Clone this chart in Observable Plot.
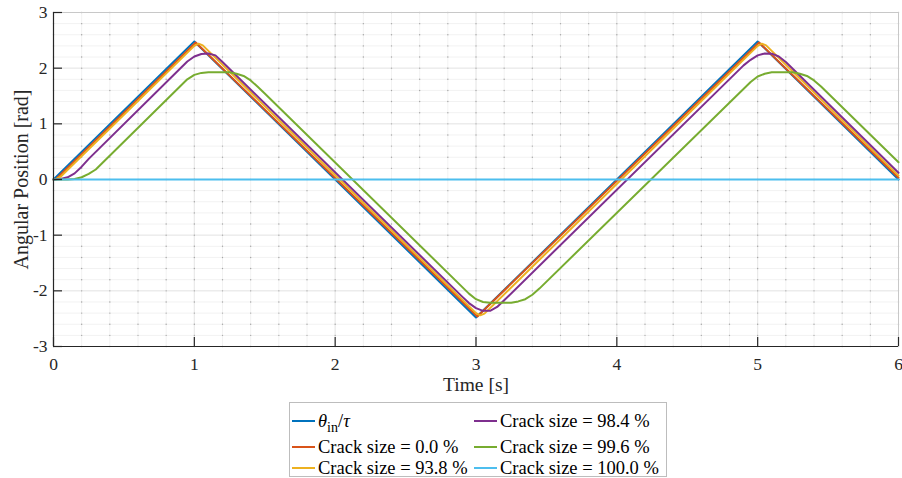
<!DOCTYPE html>
<html><head><meta charset="utf-8">
<script src="https://cdn.jsdelivr.net/npm/d3@7"></script>
<script src="https://cdn.jsdelivr.net/npm/@observablehq/plot@0.6"></script>
<style>
body{margin:0;background:#fff;font-family:"Liberation Serif","Times New Roman",serif;}
#wrap{position:relative;width:902px;height:478px;overflow:hidden;}
#legend{position:absolute;left:289px;top:402px;width:378px;height:75px;border:1px solid #bdbdbd;background:#fff;box-sizing:border-box;}
.item{position:absolute;height:24px;display:flex;align-items:center;font-size:18.5px;color:#000;white-space:nowrap;font-family:"Liberation Serif","Times New Roman",serif;}
.sw{width:23px;height:2px;margin-right:3px;flex:none;}
.item sub{font-size:14px;vertical-align:-5px;line-height:0;}
svg text{font-family:"Liberation Serif","Times New Roman",serif;}
g[aria-label$="tick label"], g[aria-label$="tick label"] text{font-size:17.5px !important;}
</style></head><body>
<div id="wrap"><div id="chart"></div><div id="legend"></div></div>
<script>
// ---- data ----
const seriesNames = ["θin/τ", "Crack size = 0.0 %", "Crack size = 93.8 %", "Crack size = 98.4 %", "Crack size = 99.6 %", "Crack size = 100.0 %"];
const seriesColors = ["#0072BD", "#D95319", "#EDB120", "#7E2F8E", "#77AC30", "#4DBEEE"];

const tInput = [0, 1, 3, 5, 6];
const yInput = [0, 2.48, -2.48, 2.48, 0];

const tCrack0 = [0, 0.015, 1.01, 3.01, 5.01, 6];
const yCrack0 = [0, 0, 2.46, -2.46, 2.46, 0.03];

const tCrack938 = [0, 0.02, 0.05, 1.0, 1.03, 1.06, 3.0, 3.03, 3.06, 5.0, 5.03, 5.06, 6];
const yCrack938 = [0, 0.005, 0.05, 2.40, 2.44, 2.41, -2.40, -2.44, -2.41, 2.40, 2.44, 2.41, 0.07];

const tCrack984 = [0, 0.05, 0.1, 0.15, 0.2, 0.25, 0.95, 1.0, 1.05, 1.1, 1.15, 1.2, 2.9, 2.95, 3.0, 3.05, 3.1, 3.15, 3.2, 4.9, 4.95, 5.0, 5.05, 5.1, 5.15, 5.2, 6];
const yCrack984 = [0, 0.01, 0.04, 0.11, 0.23, 0.37, 2.12, 2.21, 2.255, 2.265, 2.23, 2.11, -2.10, -2.22, -2.31, -2.36, -2.36, -2.29, -2.17, 2.05, 2.15, 2.23, 2.265, 2.26, 2.21, 2.11, 0.12];

const tCrack996 = [0, 0.1, 0.15, 0.2, 0.25, 0.3, 0.95, 1.0, 1.05, 1.1, 1.25, 1.3, 1.35, 1.4, 1.45, 1.5, 2.95, 3.0, 3.05, 3.1, 3.25, 3.3, 3.35, 3.4, 3.45, 4.95, 5.0, 5.05, 5.1, 5.25, 5.3, 5.35, 5.4, 5.45, 6];
const yCrack996 = [0, 0, 0.01, 0.04, 0.1, 0.18, 1.80, 1.88, 1.915, 1.925, 1.925, 1.90, 1.86, 1.78, 1.665, 1.545, -2.05, -2.15, -2.20, -2.215, -2.215, -2.19, -2.15, -2.07, -1.96, 1.75, 1.85, 1.90, 1.925, 1.925, 1.90, 1.86, 1.78, 1.67, 0.31];

const tCrack100 = [0, 6];
const yCrack100 = [0, 0];

const xTicks = [0, 1, 2, 3, 4, 5, 6];
const yTicks = [-3, -2, -1, 0, 1, 2, 3];
const xLabel = "Time [s]";
const yLabel = "Angular Position [rad]";

// ---- build tables ----
const seriesT = [tInput, tCrack0, tCrack938, tCrack984, tCrack996, tCrack100];
const seriesY = [yInput, yCrack0, yCrack938, yCrack984, yCrack996, yCrack100];
const tables = seriesT.map((ts, i) => ts.map((t, j) => ({t, v: seriesY[i][j], name: seriesNames[i]})));

const minorX = d3.range(0, 31).map(i => +(i * 0.2).toFixed(1));
const minorY = d3.range(0, 31).map(i => +(-3 + i * 0.2).toFixed(1));
const dots = [];
for (const x of minorX) for (const y of minorY) dots.push({x, y});

const W = 902, H = 400, ML = 53, MR = 4, MT = 12, MB = 54;
const innerW = W - ML - MR, innerH = H - MT - MB, tickLen = 9;
const xMin = xTicks[0], xMax = xTicks[xTicks.length - 1];
const yMin = yTicks[0], yMax = yTicks[yTicks.length - 1];
const serif = "Liberation Serif, Times New Roman, serif";

const chart = Plot.plot({
  width: W,
  height: H,
  marginLeft: ML,
  marginRight: MR,
  marginTop: MT,
  marginBottom: MB,
  style: {fontFamily: serif, fontSize: "17px", color: "#262626", background: "#fff"},
  x: {domain: [xMin, xMax]},
  y: {domain: [yMin, yMax]},
  marks: [
    Plot.ruleX(minorX, {stroke: "#f2f2f2", strokeWidth: 1}),
    Plot.ruleY(minorY, {stroke: "#f2f2f2", strokeWidth: 1}),
    Plot.ruleX(xTicks, {stroke: "#e8e8e8", strokeWidth: 1}),
    Plot.ruleY(yTicks, {stroke: "#e8e8e8", strokeWidth: 1}),
    Plot.dot(dots, {x: "x", y: "y", r: 0.7, fill: "#a6a6a6", stroke: null}),
    Plot.frame({stroke: "#c8c8c8"}),
    ...tables.map((rows, i) => Plot.line(rows, {x: "t", y: "v", stroke: seriesColors[i], strokeWidth: 2})),
    Plot.ruleY([yMin], {stroke: "#262626", strokeWidth: 1.2}),
    Plot.ruleX([xMin], {stroke: "#262626", strokeWidth: 1.2}),
    Plot.ruleX(xTicks, {x: d => d, y1: () => yMax, y2: () => yMin, insetTop: innerH - tickLen, stroke: "#262626", strokeWidth: 1.2}),
    Plot.ruleY(yTicks, {y: d => d, x1: () => xMin, x2: () => xMax, insetRight: innerW - tickLen, stroke: "#262626", strokeWidth: 1.2}),
    Plot.axisX(xTicks, {tickSize: 0, tickPadding: 11, tickFormat: d => String(d), label: null, fontSize: 17.5, fontFamily: serif, fontVariant: "normal", fill: "#262626"}),
    Plot.axisY(yTicks, {tickSize: 0, tickPadding: 6, tickFormat: d => String(d), label: null, fontSize: 17.5, fontFamily: serif, fontVariant: "normal", fill: "#262626"}),
    Plot.text([xLabel], {text: d => d, frameAnchor: "bottom", dy: 44, fontSize: 19.5, fontFamily: serif, fill: "#262626"}),
    Plot.text([yLabel], {text: d => d, frameAnchor: "left", textAnchor: "middle", dx: -32, rotate: -90, fontSize: 20, fontFamily: serif, fill: "#262626"})
  ]
});
document.getElementById("chart").appendChild(chart);

// ---- legend ----
const legendPos = [
  {left: 2, top: 18}, {left: 2, top: 44}, {left: 2, top: 65},
  {left: 184, top: 18}, {left: 184, top: 44}, {left: 184, top: 65}
];
const legend = document.getElementById("legend");
seriesNames.forEach((name, i) => {
  const el = document.createElement("div");
  el.className = "item";
  el.style.left = legendPos[i].left + "px";
  el.style.top = (legendPos[i].top - 12) + "px";
  const sw = document.createElement("span");
  sw.className = "sw";
  sw.style.background = seriesColors[i];
  el.appendChild(sw);
  const label = document.createElement("span");
  if (i === 0) {
    label.innerHTML = "<i>θ</i><sub>in</sub>/<i>τ</i>";
  } else {
    label.textContent = name;
  }
  el.appendChild(label);
  legend.appendChild(el);
});
</script>
</body></html>
